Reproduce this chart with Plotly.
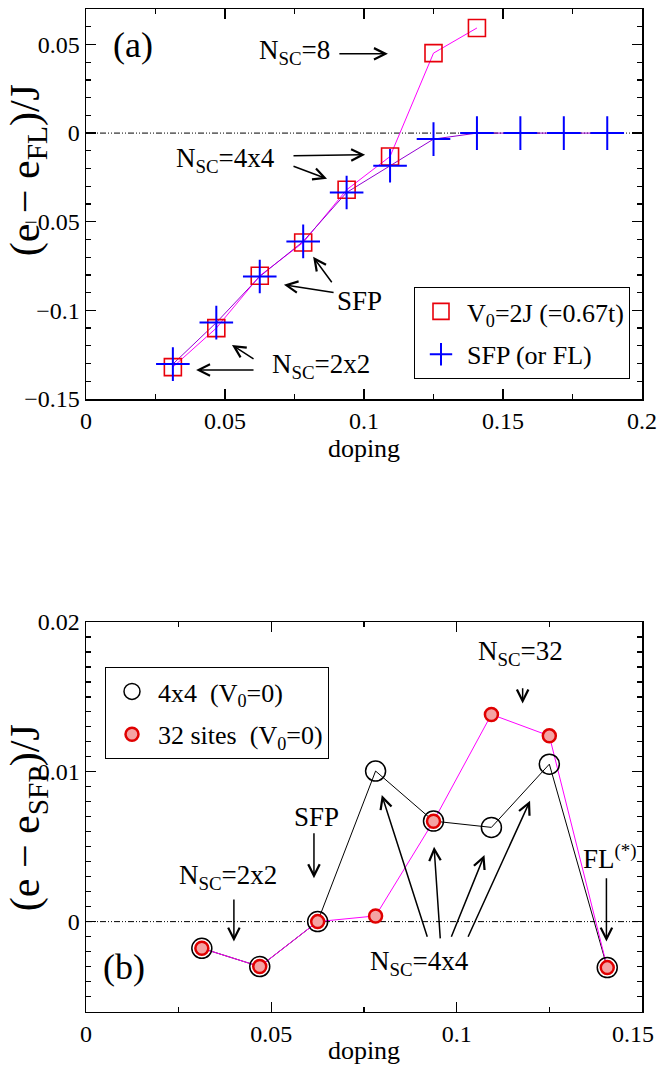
import plotly.graph_objects as go

# ---------------- data ----------------
# panel (a)
dop_a_v0 = [0.03125, 0.046875, 0.0625, 0.078125, 0.09375, 0.109375, 0.125, 0.140625]
e_a_v0 = [-0.132, -0.110, -0.0805, -0.0617, -0.0320, -0.0132, 0.0451, 0.0593]
dop_a_sfp = [0.03125, 0.046875, 0.0625, 0.078125, 0.09375, 0.109375, 0.125, 0.140625,
             0.15625, 0.171875, 0.1875]
e_a_sfp = [-0.1303, -0.1069, -0.0809, -0.0611, -0.0335, -0.0184, -0.0034, 0.0, 0.0, 0.0, 0.0]

# panel (b)
dop_b = [0.03125, 0.046875, 0.0625, 0.078125, 0.09375, 0.109375, 0.125, 0.140625]
e_b_4x4 = [-0.00178, -0.0030, 0.0000, 0.01005, 0.00671, 0.00629, 0.01051, -0.00307]
e_b_32 = [-0.00178, -0.0030, 0.0000, 0.00038, 0.0067, 0.01383, 0.0124, -0.00307]

xticks_a = [0, 0.05, 0.1, 0.15, 0.2]
yticks_a = [-0.15, -0.1, -0.05, 0, 0.05]
xticks_b = [0, 0.05, 0.1, 0.15]
yticks_b = [0, 0.01, 0.02]

FONT = "Liberation Serif, Times New Roman, Times, serif"
W, H = 660, 1065
NB = "\u00a0"

fig = go.Figure()

# ---- panel (a) traces ----
fig.add_trace(go.Scatter(x=dop_a_v0, y=e_a_v0, mode="lines", line=dict(color="#ff00ff", width=1),
                         showlegend=False, xaxis="x", yaxis="y", hoverinfo="skip"))
fig.add_trace(go.Scatter(x=dop_a_sfp, y=e_a_sfp, mode="lines", line=dict(color="#9400d3", width=1),
                         showlegend=False, xaxis="x", yaxis="y", hoverinfo="skip"))
fig.add_trace(go.Scatter(x=dop_a_v0, y=e_a_v0, mode="markers",
                         marker=dict(symbol="square-open", size=17, color="#e8000b",
                                     line=dict(width=1.6, color="#e8000b")),
                         name="V<sub>0</sub>=2J (=0.67t)", legend="legend", legendgroup="a1",
                         xaxis="x", yaxis="y"))
fig.add_trace(go.Scatter(x=dop_a_sfp, y=e_a_sfp, mode="markers",
                         marker=dict(symbol="cross-thin-open", size=24, color="#0000ff",
                                     line=dict(width=2, color="#0000ff")),
                         name="SFP (or FL)", legend="legend", legendgroup="a2",
                         xaxis="x", yaxis="y"))

# ---- panel (b) traces ----
fig.add_trace(go.Scatter(x=dop_b, y=e_b_4x4, mode="lines", line=dict(color="black", width=1),
                         showlegend=False, xaxis="x2", yaxis="y2", hoverinfo="skip"))
fig.add_trace(go.Scatter(x=dop_b, y=e_b_32, mode="lines", line=dict(color="#ff00ff", width=1),
                         showlegend=False, xaxis="x2", yaxis="y2", hoverinfo="skip"))
fig.add_trace(go.Scatter(x=dop_b, y=e_b_4x4, mode="markers",
                         marker=dict(symbol="circle-open", size=20, color="black",
                                     line=dict(width=1.5, color="black")),
                         name=f"4x4{NB}{NB}(V<sub>0</sub>=0)", legend="legend2", legendgroup="b1",
                         xaxis="x2", yaxis="y2"))
fig.add_trace(go.Scatter(x=dop_b, y=e_b_32, mode="markers",
                         marker=dict(symbol="circle", size=13, color="#f4a3a3",
                                     line=dict(width=2.5, color="#e00000")),
                         name=f"32 sites{NB}{NB}(V<sub>0</sub>=0)", legend="legend2", legendgroup="b2",
                         xaxis="x2", yaxis="y2"))

# ---- geometry (paper fractions) ----
xdom = [86 / W, 642 / W]
ydom_a = [1 - 399 / H, 1 - 9 / H]
ydom_b = [1 - 1011.5 / H, 1 - 622 / H]

axis_common = dict(showline=True, linecolor="black", linewidth=1.5, mirror="allticks",
                   ticks="inside", ticklen=10, tickwidth=1.2, tickcolor="black",
                   showgrid=False, zeroline=False, automargin=False, ticklabeloverflow="allow",
                   tickfont=dict(family=FONT, size=24, color="black"))
xtitle = dict(text="doping", font=dict(family=FONT, size=26, color="black"), standoff=0)

# last bottom label nudged inward (trailing no-break spaces) so it is not clipped at the page edge
ticktext_b = [f"{v:g}" for v in xticks_b]
ticktext_b[-1] = ticktext_b[-1] + NB * 3

fig.update_layout(
    template="none",
    width=W, height=H, margin=dict(l=0, r=0, t=0, b=0, pad=0),
    paper_bgcolor="white", plot_bgcolor="white",
    font=dict(family=FONT, color="black", size=24),
    xaxis=dict(domain=xdom, anchor="y", range=[0, 0.2000001], tickvals=xticks_a,
               ticktext=[f"{v:g}" for v in xticks_a], title=xtitle,
               minor=dict(ticks="inside", ticklen=5, dtick=0.025, tick0=0, tickcolor="black"),
               **axis_common),
    yaxis=dict(domain=ydom_a, anchor="x", range=[-0.1500001, 0.07], tickvals=yticks_a,
               ticktext=[f"{v:g}".replace("-", "\u2212") for v in yticks_a],
               minor=dict(ticks="inside", ticklen=5, dtick=0.01, tick0=0, tickcolor="black"),
               **axis_common),
    xaxis2=dict(domain=xdom, anchor="y2", range=[0, 0.1500001], tickvals=xticks_b,
                ticktext=ticktext_b, title=xtitle,
                minor=dict(ticks="inside", ticklen=5, dtick=0.025, tick0=0, tickcolor="black"),
                **axis_common),
    yaxis2=dict(domain=ydom_b, anchor="x2", range=[-0.006, 0.0200001], tickvals=yticks_b,
                ticktext=[f"{v:g}" for v in yticks_b],
                minor=dict(ticks="inside", ticklen=5, dtick=0.001, tick0=0, tickcolor="black"),
                **axis_common),
    legend=dict(x=414 / W, y=1 - 287 / H, xanchor="left", yanchor="top",
                bordercolor="black", borderwidth=1, bgcolor="white", itemwidth=42,
                font=dict(family=FONT, size=26), traceorder="grouped", tracegroupgap=6),
    legend2=dict(x=105 / W, y=1 - 667 / H, xanchor="left", yanchor="top",
                 bordercolor="black", borderwidth=1, bgcolor="white", itemwidth=42,
                 font=dict(family=FONT, size=26), traceorder="grouped", tracegroupgap=6),
)

# zero reference lines (dash-dot-dot)
for xr, yr in (("x domain", "y"), ("x2 domain", "y2")):
    fig.add_shape(type="line", xref=xr, yref=yr, x0=0, x1=1, y0=0, y1=0,
                  line=dict(color="black", width=1, dash="6px,2px,1px,2px,1px,2px"), layer="below")

ann = []


def text(x, y, s, xr, yr, size=27, xanchor="center"):
    ann.append(dict(x=x, y=y, xref=xr, yref=yr, text=s, showarrow=False,
                    font=dict(family=FONT, size=size, color="black"), xanchor=xanchor,
                    yanchor="middle"))


def arrow(x0, y0, x1, y1, xr, yr):
    ann.append(dict(x=x1, y=y1, ax=x0, ay=y0, xref=xr, yref=yr, axref=xr, ayref=yr,
                    text="", showarrow=True, arrowhead=5, arrowsize=1.5, arrowwidth=1.5,
                    arrowcolor="black", standoff=0, startstandoff=0))


# panel (a) annotations
text(0.0169, 0.0498, "(a)", "x", "y", size=36)
text(0.0885, 0.0459, "N<sub>SC</sub>=8", "x", "y", xanchor="right")
arrow(0.0906, 0.0447, 0.1086, 0.0447, "x", "y")
text(0.0687, -0.0151, "N<sub>SC</sub>=4x4", "x", "y", xanchor="right")
arrow(0.0741, -0.0128, 0.1004, -0.0122, "x", "y")
arrow(0.0741, -0.0184, 0.0867, -0.0258, "x", "y")
text(0.0982, -0.0946, "SFP", "x", "y")
arrow(0.0888, -0.0850, 0.0817, -0.0698, "x", "y")
arrow(0.0896, -0.0901, 0.0712, -0.0856, "x", "y")
text(0.0662, -0.1313, "N<sub>SC</sub>=2x2", "x", "y", xanchor="left")
arrow(0.0608, -0.1279, 0.0525, -0.1195, "x", "y")
arrow(0.0608, -0.1336, 0.0396, -0.1336, "x", "y")

# panel (b) annotations
text(0.1171, 0.0179, "N<sub>SC</sub>=32", "x2", "y2")
arrow(0.1178, 0.01567, 0.1178, 0.01456, "x2", "y2")
text(0.0623, 0.0070, "SFP", "x2", "y2")
arrow(0.0615, 0.0060, 0.0615, 0.0029, "x2", "y2")
text(0.0245, 0.0030, "N<sub>SC</sub>=2x2", "x2", "y2", xanchor="left")
arrow(0.0399, 0.00158, 0.0399, -0.00133, "x2", "y2")
text(0.1414, 0.0043, "FL<sup>(*)</sup>", "x2", "y2")
arrow(0.1404, 0.0030, 0.1404, -0.00133, "x2", "y2")
text(0.0103, -0.0030, "(b)", "x2", "y2", size=36)
text(0.0901, -0.00275, "N<sub>SC</sub>=4x4", "x2", "y2")
arrow(0.0922, -0.00111, 0.0798, 0.00845, "x2", "y2")
arrow(0.0956, -0.00122, 0.0939, 0.0050, "x2", "y2")
arrow(0.0984, -0.00111, 0.1075, 0.00445, "x2", "y2")
arrow(0.1029, -0.00111, 0.1198, 0.00807, "x2", "y2")

# y-axis titles (rotated)
ann.append(dict(x=0, y=-0.021, xref="paper", yref="y", xanchor="left", yanchor="middle",
                text="(e \u2212 e<sub>FL</sub>)/J", textangle=-90,
                showarrow=False, font=dict(family=FONT, size=42, color="black")))
ann.append(dict(x=0, y=0.0069, xref="paper", yref="y2", xanchor="left", yanchor="middle",
                text="(e \u2212 e<sub>SFP</sub>)/J", textangle=-90,
                showarrow=False, font=dict(family=FONT, size=42, color="black")))

fig.update_layout(annotations=ann)

fig.write_html("out.html", config={"displayModeBar": False, "staticPlot": True},
               post_script="document.body.style.margin='0';")
